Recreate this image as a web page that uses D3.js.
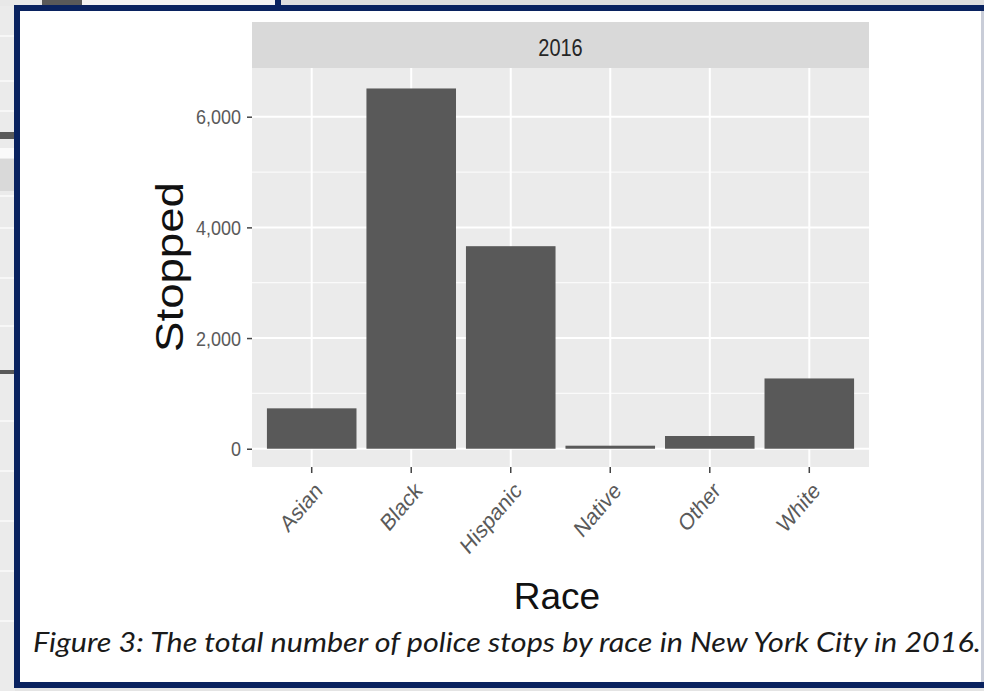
<!DOCTYPE html>
<html>
<head>
<meta charset="utf-8">
<script src="https://cdn.jsdelivr.net/npm/d3@7"></script>
<style>
  body { margin: 0; background: #fff; }
  svg { display: block; }
</style>
</head>
<body>
<svg id="chart" width="984" height="691"></svg>
<script>
// ---- data ----
const races = ["Asian", "Black", "Hispanic", "Native", "Other", "White"];
const stopped = [730, 6510, 3660, 55, 230, 1270];
const yTicks = [0, 2000, 4000, 6000];
const yMinorTicks = [1000, 3000, 5000];
const facetLabel = "2016";
const xTitle = "Race";
const yTitle = "Stopped";
const caption = "Figure 3: The total number of police stops by race in New York City in 2016.";

// ---- layout ----
const W = 984, H = 691;
const panel = { left: 252, right: 869, top: 68, bottom: 467 };
const stripTop = 22;
const navy = "#09225f";
const stretchY = 1.17;           // the embedded plot is drawn slightly taller than wide
const axisFont = "'Liberation Sans', Arial, sans-serif";

const svg = d3.select("#chart");

// surrounding page: neighbouring figure peeking out at top and left
const bg = svg.append("g");
bg.append("rect").attr("x", 0).attr("y", 0).attr("width", W).attr("height", H).attr("fill", "#e4e4e4");
bg.append("rect").attr("x", 0).attr("y", 0).attr("width", 42).attr("height", 6).attr("fill", "#e8e8e8");
bg.append("rect").attr("x", 42).attr("y", 0).attr("width", 40).attr("height", 6).attr("fill", "#595959");
bg.append("rect").attr("x", 82).attr("y", 0).attr("width", 193).attr("height", 6).attr("fill", "#f3f3f3");
bg.append("rect").attr("x", 275).attr("y", 0).attr("width", 6).attr("height", 6).attr("fill", navy);
bg.append("rect").attr("x", 281).attr("y", 0).attr("width", W - 281).attr("height", 6).attr("fill", "#dedede");
// left edge strip
bg.append("rect").attr("x", 0).attr("y", 6).attr("width", 15).attr("height", H - 6).attr("fill", "#ebebeb");
[35, 80, 110, 195, 227, 277, 325, 420, 470, 520, 570, 620].forEach(y =>
  bg.append("rect").attr("x", 0).attr("y", y).attr("width", 15).attr("height", 2).attr("fill", "#f7f7f7"));
bg.append("rect").attr("x", 0).attr("y", 148).attr("width", 15).attr("height", 10).attr("fill", "#fafafa");
bg.append("rect").attr("x", 0).attr("y", 159).attr("width", 15).attr("height", 32).attr("fill", "#d9d9d9");
bg.append("rect").attr("x", 0).attr("y", 132).attr("width", 15).attr("height", 7).attr("fill", "#595959");
bg.append("rect").attr("x", 0).attr("y", 370).attr("width", 15).attr("height", 4).attr("fill", "#595959");

// framed card
svg.append("rect").attr("x", 17).attr("y", 8).attr("width", W - 17 + 10).attr("height", 677)
  .attr("fill", "#fff").attr("stroke", navy).attr("stroke-width", 6);
svg.append("rect").attr("x", 981).attr("y", 11).attr("width", 3).attr("height", 671).attr("fill", "#c9cdd8");

// ---- scales ----
const x = d3.scaleBand().domain(races)
  .range([panel.left, panel.right]).paddingInner(0.1).paddingOuter(0.15);
const y = d3.scaleLinear().domain([-330, 6880]).range([panel.bottom, panel.top]);

// facet strip
svg.append("rect").attr("x", panel.left).attr("y", stripTop)
  .attr("width", panel.right - panel.left).attr("height", panel.top - stripTop).attr("fill", "#d9d9d9");
svg.append("text")
  .attr("transform", `translate(${(panel.left + panel.right) / 2},${stripTop + 34}) scale(1,${stretchY})`)
  .attr("text-anchor", "middle").attr("font-family", axisFont).attr("font-size", 20)
  .attr("fill", "#262626").text(facetLabel);

// panel background and grid
svg.append("rect").attr("x", panel.left).attr("y", panel.top)
  .attr("width", panel.right - panel.left).attr("height", panel.bottom - panel.top).attr("fill", "#ebebeb");
const grid = svg.append("g");
grid.selectAll("line.minor").data(yMinorTicks).join("line").attr("class", "minor")
  .attr("x1", panel.left).attr("x2", panel.right)
  .attr("y1", d => y(d)).attr("y2", d => y(d))
  .attr("stroke", "#fafafa").attr("stroke-width", 1.3);
grid.selectAll("line.majorY").data(yTicks).join("line").attr("class", "majorY")
  .attr("x1", panel.left).attr("x2", panel.right)
  .attr("y1", d => y(d)).attr("y2", d => y(d))
  .attr("stroke", "#fff").attr("stroke-width", 2);
grid.selectAll("line.majorX").data(races).join("line").attr("class", "majorX")
  .attr("x1", d => x(d) + x.bandwidth() / 2).attr("x2", d => x(d) + x.bandwidth() / 2)
  .attr("y1", panel.top).attr("y2", panel.bottom)
  .attr("stroke", "#fff").attr("stroke-width", 2);

// bars
svg.append("g").selectAll("rect").data(races).join("rect")
  .attr("x", d => x(d))
  .attr("width", x.bandwidth())
  .attr("y", (d, i) => y(stopped[i]))
  .attr("height", (d, i) => y(0) - y(stopped[i]))
  .attr("fill", "#595959");

// y axis
const yAxis = d3.axisLeft(y).tickValues(yTicks).tickSize(5).tickPadding(5)
  .tickFormat(d3.format(","));
const gy = svg.append("g").attr("transform", `translate(${panel.left},0)`).call(yAxis);
gy.select(".domain").remove();
gy.selectAll(".tick line").attr("stroke", "#444").attr("stroke-width", 1.5);
gy.selectAll(".tick text")
  .attr("x", null).attr("dy", null)
  .attr("transform", `translate(-11,7) scale(1,${stretchY})`)
  .attr("font-family", axisFont).attr("font-size", 18).attr("fill", "#5a5a5a");

// x axis
const xAxis = d3.axisBottom(x).tickSize(6).tickPadding(4);
const gx = svg.append("g").attr("transform", `translate(0,${panel.bottom})`).call(xAxis);
gx.select(".domain").remove();
gx.selectAll(".tick line").attr("stroke", "#444").attr("stroke-width", 1.5);
gx.selectAll(".tick text")
  .attr("y", null).attr("dy", null)
  .attr("text-anchor", "end")
  .attr("transform", `translate(12,25) scale(1,${stretchY}) rotate(-45)`)
  .attr("font-family", axisFont).attr("font-size", 20).attr("fill", "#5a5a5a");

// axis titles
svg.append("text")
  .attr("transform", `translate(183,267) scale(1,${stretchY}) rotate(-90)`)
  .attr("text-anchor", "middle").attr("font-family", axisFont).attr("font-size", 39)
  .attr("fill", "#111").text(yTitle);
svg.append("text")
  .attr("x", 557).attr("y", 609)
  .attr("text-anchor", "middle").attr("font-family", axisFont).attr("font-size", 37)
  .attr("fill", "#111").text(xTitle);

// caption
svg.append("text")
  .attr("x", 33).attr("y", 652)
  .attr("textLength", 948).attr("lengthAdjust", "spacingAndGlyphs")
  .attr("font-family", "Lato, 'Open Sans', sans-serif").attr("font-style", "italic")
  .attr("font-size", 27).attr("fill", "#1a1a1a").text(caption);
</script>
</body>
</html>
